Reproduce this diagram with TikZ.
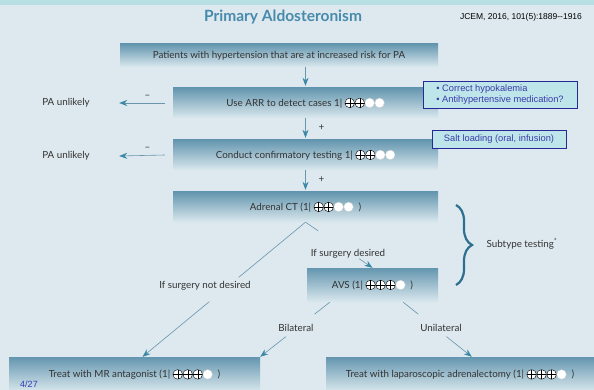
\documentclass[tikz,border=0pt]{standalone}
\usepackage{fontspec}
\setmainfont{Lato}
\newfontfamily\arialfont{Liberation Sans}
\usetikzlibrary{arrows.meta, calc, decorations.pathreplacing}

\definecolor{bgcol}{RGB}{221,233,239}
\definecolor{bandcol}{RGB}{184,224,228}
\definecolor{boxtop}{RGB}{100,150,175}
\definecolor{boxbot}{RGB}{218,232,238}
\definecolor{flowcol}{RGB}{58,136,165}
\definecolor{linecol}{RGB}{104,150,172}
\definecolor{titlecol}{RGB}{72,138,172}
\definecolor{notefill}{RGB}{190,230,234}
\definecolor{notedraw}{RGB}{40,40,150}
\definecolor{notetext}{RGB}{58,58,170}
\definecolor{bracecol}{RGB}{46,110,142}
\definecolor{pagecol}{RGB}{46,62,180}

% GRADE symbols
\makeatletter
\newcommand{\gplus}{\tikz[baseline=-3.4pt]{\pgf@relevantforpicturesizetrue\draw[black, line width=0.4pt, fill=white] (0pt,0pt) circle (4.8pt); \draw[black, line width=0.4pt] (-4.8pt,0pt) -- (4.8pt,0pt) (0pt,-4.8pt) -- (0pt,4.8pt);}}
\newcommand{\gnone}{\tikz[baseline=-3.4pt]{\pgf@relevantforpicturesizetrue\draw[black!20, line width=0.3pt, fill=white] (0pt,0pt) circle (4.8pt);}}
\makeatother

\begin{document}
\begin{tikzpicture}[x=1pt, y=-1pt,
    font=\fontsize{9.8}{12}\selectfont, text=black!80,
    stepbox/.style={top color=boxtop, bottom color=boxbot, inner sep=0pt, minimum height=30pt},
    flow/.style={draw=linecol, line width=0.6pt, -{Stealth[length=8pt, width=6pt, color=flowcol]}},
    link/.style={draw=linecol, line width=0.6pt},
    note/.style={draw=notedraw, line width=0.6pt, fill=notefill, text=notetext, inner sep=2pt,
        font=\arialfont\fontsize{9.3}{11}\selectfont}]
    \useasboundingbox (0,0) rectangle (594,390);
    \fill[bgcol] (0,0) rectangle (594,390);
    \fill[bandcol] (0,0) rectangle (594,5);
    \clip (0,0) rectangle (594,390);

    % Heading
    \node[font=\bfseries\fontsize{15.5}{18}\selectfont, text=titlecol] (title) at (283,17) {Primary Aldosteronism};
    \node[font=\arialfont\fontsize{8.5}{10}\selectfont, text=black] (source) at (521,17) {JCEM, 2016, 101(5):1889--1916};

    % Main steps
    \node[stepbox, minimum width=318pt, minimum height=23pt] (patients) at (279,55.5) {Patients with hypertension that are at increased risk for PA};
    \node[stepbox, minimum width=265pt] (arr) at (305.5,103) {Use ARR to detect cases 1| \gplus\gplus\gnone\gnone};
    \node[stepbox, minimum width=265pt] (confirm) at (305.5,155) {Conduct confirmatory testing 1| \gplus\gplus\gnone\gnone};
    \node[stepbox, minimum width=265pt] (ct) at (305.5,207) {Adrenal CT (1| \gplus\gplus\gnone\gnone\ \ )};
    \node[stepbox, minimum width=131pt, minimum height=34pt] (avs) at (372.5,285) {AVS (1| \gplus\gplus\gplus\gnone\ \ )};
    \node[stepbox, minimum width=251pt, minimum height=35pt] (mr) at (134.5,374.5) {Treat with MR antagonist (1| \gplus\gplus\gplus\gnone\ \ )};
    \node[stepbox, minimum width=268pt, minimum height=35pt] (lap) at (460,374.5) {Treat with laparoscopic adrenalectomy (1| \gplus\gplus\gplus\gnone\ \ )};

    % Side notes
    \node[note, minimum width=154pt, minimum height=27pt, align=left] (hypo) at (500,94.5) {\textbullet\ Correct hypokalemia\\\textbullet\ Antihypertensive medication?};
    \node[note, minimum width=134pt, minimum height=18pt] (salt) at (499,139) {Salt loading (oral, infusion)};

    % Negative results
    \node (unlikelyA) at (66,103) {PA unlikely};
    \node (unlikelyB) at (66,156) {PA unlikely};
    \draw[flow] ([xshift=-8pt]arr.west) -- ([xshift=26pt]unlikelyA.east) node[pos=0.38, above=1pt] {--};
    \draw[flow] ([xshift=-8pt]confirm.west) -- ([xshift=26pt]unlikelyB.east) node[pos=0.38, above=1pt] {--};

    % Positive results
    \draw[flow] (patients.south -| arr.north) -- ([yshift=2pt]arr.north);
    \draw[flow] (arr.south) -- ([yshift=2pt]confirm.north) node[midway, xshift=16pt] {+};
    \draw[flow] (confirm.south) -- ([yshift=2pt]ct.north) node[midway, xshift=16pt] {+};

    % Subtype testing
    \coordinate (mrin) at ([xshift=8pt]mr.north);
    \draw[link] (ct.south) -- ($(ct.south)!0.41!(mrin)$);
    \draw[flow] ($(ct.south)!0.59!(mrin)$) -- (mrin);
    \node (nosurgery) at (205,286) {If surgery not desired};
    \draw[link] (ct.south) -- ($(ct.south)!0.19!(avs.north)$);
    \draw[flow] ($(ct.south)!0.8!(avs.north)$) -- (avs.north);
    \node (surgery) at (348,254) {If surgery desired};

    \coordinate (bilout) at ([xshift=23pt]avs.south west);
    \draw[link] (bilout) -- ($(bilout)!0.22!(mr.north east)$);
    \draw[flow] ($(bilout)!0.63!(mr.north east)$) -- (mr.north east);
    \node (bilateral) at (296,328) {Bilateral};
    \coordinate (uniout) at ([xshift=-35pt]avs.south east);
    \coordinate (lapin) at ([xshift=146pt]lap.north west);
    \draw[link] (uniout) -- ($(uniout)!0.22!(lapin)$);
    \draw[flow] ($(uniout)!0.63!(lapin)$) -- (lapin);
    \node (unilateral) at (441,328) {Unilateral};

    \draw[bracecol, line width=2.2pt, decorate, decoration={brace, amplitude=16pt}] (456,205) -- (456,285);
    \node (subtype) at (522,244) {Subtype testing\textsuperscript{*}};

    % Page number
    \node[font=\arialfont\fontsize{9}{10}\selectfont, text=pagecol] (page) at (29,384) {4/27};
\end{tikzpicture}
\end{document}
